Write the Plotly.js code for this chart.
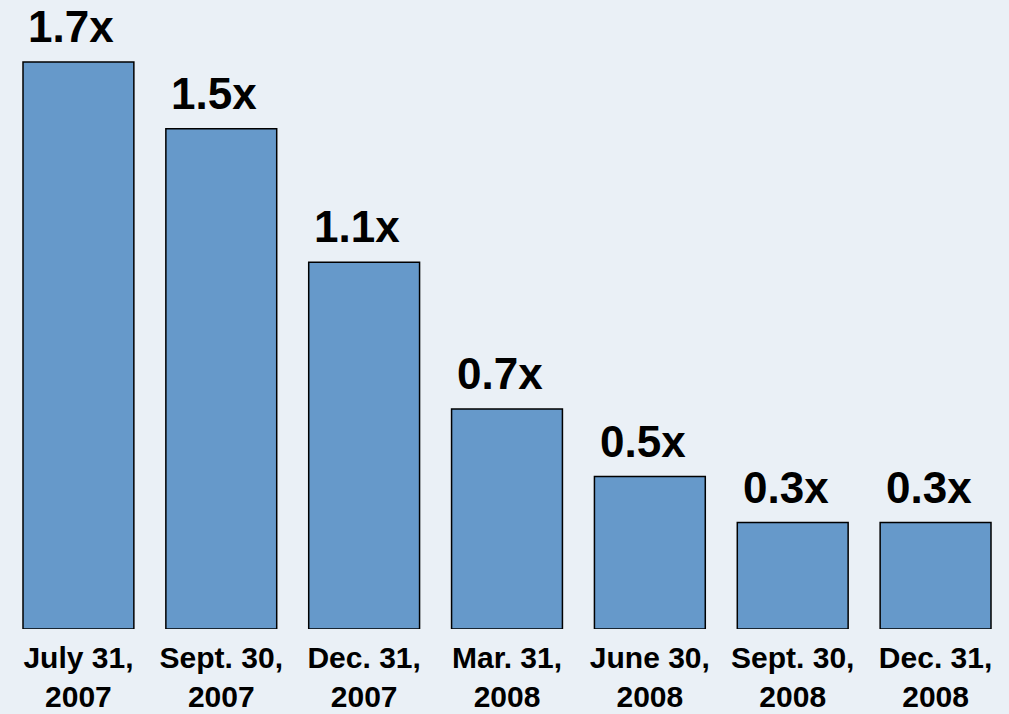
<!DOCTYPE html>
<html>
<head>
<meta charset="utf-8">
<script src="https://cdn.plot.ly/plotly-3.0.1.min.js"></script>
<style>html,body{margin:0;padding:0;background:#EAF0F6;}#chart{width:1009px;height:714px;}</style>
</head>
<body>
<div id="chart"></div>
<script>
const categories = ["July 31,<br>2007", "Sept. 30,<br>2007", "Dec. 31,<br>2007", "Mar. 31,<br>2008", "June 30,<br>2008", "Sept. 30,<br>2008", "Dec. 31,<br>2008"];
const values = [1.70, 1.50, 1.10, 0.66, 0.457, 0.319, 0.319];
const valueLabels = ["1.7x", "1.5x", "1.1x", "0.7x", "0.5x", "0.3x", "0.3x"];

const trace = {
  type: "bar",
  x: categories,
  y: values,
  marker: {color: "#6699CA", line: {color: "#000000", width: 1.5}},
  hoverinfo: "none"
};

const annotations = categories.map((c, i) => ({
  x: c, y: values[i], xref: "x", yref: "y",
  text: "<b>" + valueLabels[i] + "</b>",
  showarrow: false, yanchor: "bottom", yshift: 9, xshift: -7,
  font: {family: "Liberation Sans, Arial, sans-serif", size: 44, color: "#000000"}
}));

const layout = {
  width: 1009, height: 714,
  margin: {l: 7, r: 1.5, t: 0, b: 85},
  paper_bgcolor: "#EAF0F6",
  plot_bgcolor: "rgba(0,0,0,0)",
  bargap: 0.224,
  showlegend: false,
  xaxis: {
    type: "category",
    showgrid: false, zeroline: false, showline: false, ticks: "",
    ticklabelstandoff: 8,
    tickfont: {family: "Liberation Sans, Arial, sans-serif", size: 30, color: "#000000", weight: "bold"}
  },
  yaxis: {
    range: [0, 1.886],
    visible: false, showgrid: false, zeroline: false
  },
  annotations: annotations
};

Plotly.newPlot("chart", [trace], layout, {displayModeBar: false, staticPlot: true});
</script>
</body>
</html>
